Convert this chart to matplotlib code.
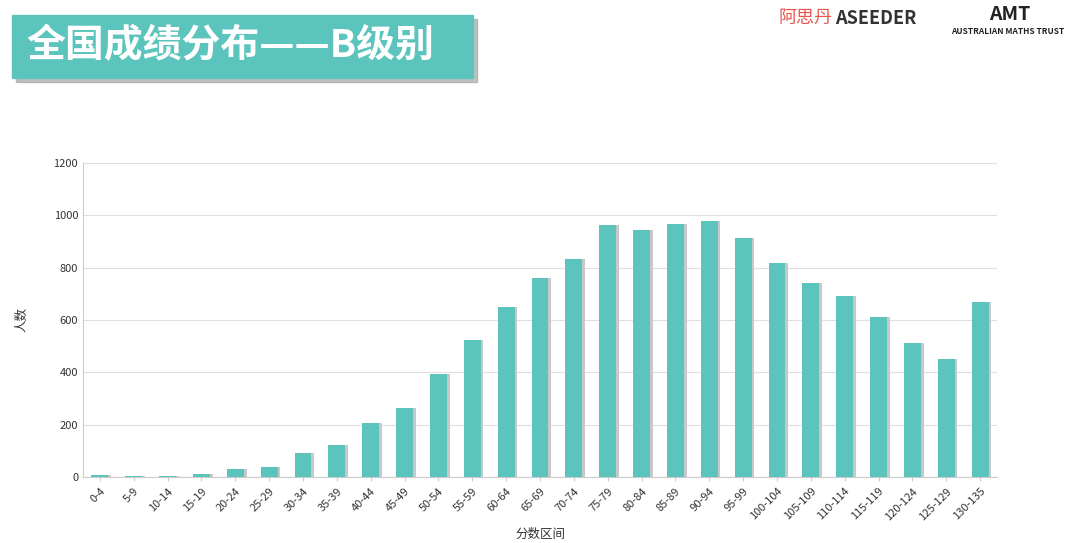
import matplotlib.pyplot as plt
from matplotlib.patches import Rectangle

plt.rcParams['font.family'] = ['Noto Sans CJK SC', 'DejaVu Sans']

labels = ["0-4", "5-9", "10-14", "15-19", "20-24", "25-29", "30-34", "35-39", "40-44",
          "45-49", "50-54", "55-59", "60-64", "65-69", "70-74", "75-79", "80-84", "85-89",
          "90-94", "95-99", "100-104", "105-109", "110-114", "115-119", "120-124",
          "125-129", "130-135"]
counts = [8, 3, 5, 12, 30, 38, 92, 122, 207, 265, 393, 522, 648, 760, 835, 963, 945,
          968, 977, 915, 818, 743, 692, 610, 512, 450, 668]

teal = "#5bc4bd"
fig = plt.figure(figsize=(10.8, 5.43), dpi=100)
ax = fig.add_axes([83 / 1080, 1 - 477 / 543, 914 / 1080, 314 / 543])

x = range(len(labels))
# shadow then bars
ax.bar([i + 0.08 for i in x], counts, width=0.5, color="#c8c8c8", zorder=2)
ax.bar(x, counts, width=0.5, color=teal, zorder=3)
ax.set_xlim(-0.5, len(labels) - 0.5)
ax.set_ylim(0, 1200)
ax.set_yticks(range(0, 1201, 200))
ax.set_xticks(list(x))
ax.set_xticklabels(labels, rotation=45, ha="right", rotation_mode="anchor", fontsize=8,
                   color="#333333")
ax.tick_params(axis="y", labelsize=8, length=0, labelcolor="#333333")
ax.tick_params(axis="x", length=3, color="#cccccc")
ax.grid(axis="y", color="#e0e0e0", lw=0.8, zorder=0)
for s in ["top", "right"]:
    ax.spines[s].set_visible(False)
ax.spines["left"].set_color("#cccccc")
ax.spines["bottom"].set_color("#cccccc")
ax.set_ylabel("人数", fontsize=9, labelpad=18, color="#333333")
ax.set_xlabel("分数区间", fontsize=9, labelpad=4, color="#333333")

# title box
fig.patches.append(Rectangle((16 / 1080, 1 - 82 / 543), 461 / 1080, 63 / 543,
                             transform=fig.transFigure, color="#999999", alpha=0.6, zorder=0))
fig.patches.append(Rectangle((12 / 1080, 1 - 78 / 543), 461 / 1080, 63 / 543,
                             transform=fig.transFigure, color=teal, zorder=1))
fig.text(26 / 1080, 1 - 46 / 543, "全国成绩分布——B级别", color="white", fontsize=28,
         fontweight="bold", va="center", ha="left")

# logos as text
fig.text(778 / 1080, 1 - 18 / 543, "阿思丹", color="#e8554e", fontsize=13, va="center")
fig.text(835 / 1080, 1 - 18 / 543, "ASEEDER", color="#333333", fontsize=13,
         fontweight="bold", va="center")
fig.text(1010 / 1080, 1 - 15 / 543, "AMT", color="#222222", fontsize=14,
         fontweight="bold", va="center", ha="center")
fig.text(1008 / 1080, 1 - 31 / 543, "AUSTRALIAN MATHS TRUST", color="#222222", fontsize=6,
         fontweight="bold", va="center", ha="center")

fig.savefig("out.png", dpi=100)
